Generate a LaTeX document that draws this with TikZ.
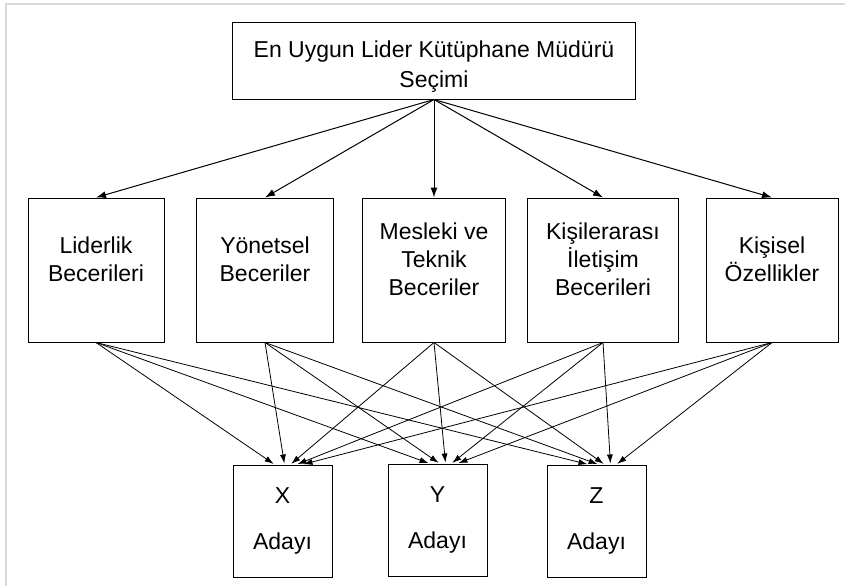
\documentclass[tikz,border=0pt]{standalone}
\usepackage{fontspec}
\setmainfont{Liberation Sans}
\usetikzlibrary{arrows.meta}
\newcommand{\lifted}[2]{\raisebox{#1}[\height][\depth]{\begin{tabular}{@{}c@{}}#2\end{tabular}}}

\begin{document}
\begin{tikzpicture}[x=1pt,y=-1pt,
    level/.style={sibling distance=169pt, level distance=209pt},
    edge from parent/.style={draw,line width=1pt,-{Latex[length=10pt,width=7pt]}},
    edge from parent path={(\tikzparentnode.south) -- (\tikzchildnode.north)}]
\tikzset{box/.style={draw,line width=1pt,align=center,inner sep=2pt,
                     font=\fontsize{23}{28}\selectfont}}
\tikzset{link/.style={line width=0.8pt,shorten >=1pt,-{Latex[length=9pt,width=6pt]}}}
%\tikzset{box/.style={draw,rounded corners}}
\useasboundingbox (0,0) rectangle (845,586);
\draw[black!15,line width=1.2pt] (6,586) -- (6,4) -- (845,4);

\node[box,minimum width=403pt,minimum height=76pt,font=\fontsize{23}{30}\selectfont] (root) at (434,61)
    {\lifted{-5pt}{En Uygun Lider Kütüphane Müdürü\\Seçimi}}
    child {node[box,minimum width=136pt,minimum height=144pt] (lid) {\lifted{8pt}{Liderlik\\Becerileri}}}
    child {node[box,minimum width=137pt,minimum height=144pt] (yon) {\lifted{8pt}{Yönetsel\\Beceriler}}}
    child {node[box,minimum width=143pt,minimum height=144pt] (mes) {\lifted{8pt}{Mesleki ve\\Teknik\\Beceriler}}}
    child {node[box,minimum width=151pt,minimum height=144pt] (kis) {\lifted{8pt}{Kişilerarası\\İletişim\\Becerileri}}}
    child {node[box,minimum width=132pt,minimum height=144pt] (oze) {\lifted{8pt}{Kişisel\\Özellikler}}}
    ;

% adaylar
\node[box,minimum width=99pt,minimum height=112pt] (xa) at (282.5,521) {X\\[18pt]Adayı};
\node[box,minimum width=99pt,minimum height=112pt] (ya) at (437.5,520) {Y\\[18pt]Adayı};
\node[box,minimum width=99pt,minimum height=112pt] (za) at (596.5,521) {Z\\[18pt]Adayı};

\foreach \src/\dx in {lid/-8,yon/2,mes/8,kis/14,oze/20}
    \foreach \dst in {xa,ya,za}
        \draw[link] (\src.south) -- ([xshift=\dx pt]\dst.north);
\end{tikzpicture}
\end{document}
